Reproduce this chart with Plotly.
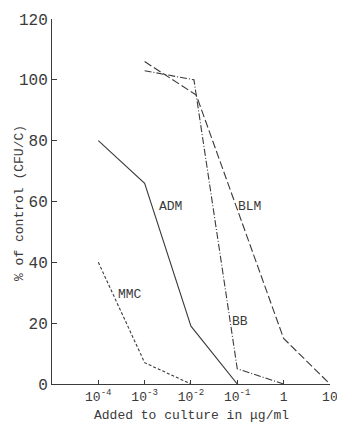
import plotly.graph_objects as go

# Data
adm_x = [1e-4, 1e-3, 1e-2, 1e-1]
adm_y = [80, 66, 19, 0]
mmc_x = [1e-4, 1e-3, 1e-2]
mmc_y = [40, 7, 0]
bb_x = [1e-3, 1.16e-2, 1e-1, 1]
bb_y = [103, 100, 5, 0]
blm_x = [1e-3, 1.3e-2, 1, 10]
blm_y = [106, 95, 15, 0]

x_tickvals = [1e-4, 1e-3, 1e-2, 1e-1, 1, 10]
x_ticktext = ["10<sup>-4</sup>", "10<sup>-3</sup>", "10<sup>-2</sup>", "10<sup>-1</sup>", "1", "10"]
y_tickvals = [0, 20, 40, 60, 80, 100, 120]

# label positions: (text, log10 x, y)
labels = [("ADM", -2.45, 58.5), ("BLM", -0.74, 58.5), ("MMC", -3.32, 29.3), ("BB", -0.94, 20.7)]

FONT = "Liberation Mono"
INK = "#3a3a3a"

fig = go.Figure()
for xs, ys, dash in [(adm_x, adm_y, "solid"), (mmc_x, mmc_y, "3px,2px"),
                     (bb_x, bb_y, "7px,2px,1px,2px"), (blm_x, blm_y, "8px,3px")]:
    fig.add_trace(go.Scatter(x=xs, y=ys, mode="lines",
                             line=dict(color=INK, width=1.1, dash=dash),
                             showlegend=False, hoverinfo="skip"))

for text, x, y in labels:
    fig.add_annotation(x=x, y=y, text=text, showarrow=False,
                       font=dict(family=FONT, size=13, color=INK), xanchor="center", yanchor="middle")

fig.add_annotation(xref="paper", yref="paper", x=0.502, y=-0.085, text="Added to culture in μg/ml",
                   showarrow=False, xanchor="center", yanchor="middle",
                   font=dict(family=FONT, size=13, color=INK))
fig.add_annotation(xref="paper", yref="paper", x=-0.115, y=0.496, text="% of control (CFU/C)",
                   showarrow=False, xanchor="center", yanchor="middle", textangle=-90,
                   font=dict(family=FONT, size=13, color=INK))

fig.update_layout(
    width=337, height=425,
    margin=dict(l=52, r=7, t=19, b=41),
    plot_bgcolor="white", paper_bgcolor="white",
    font=dict(family=FONT, size=13, color=INK),
)
fig.update_xaxes(type="log", range=[-5, 1.002], tickvals=x_tickvals, ticktext=x_ticktext,
                 automargin=False, ticklabeloverflow="allow",
                 showgrid=False, zeroline=False, showline=True, linecolor=INK, linewidth=1,
                 ticks="inside", ticklen=4, tickcolor=INK,
                 tickfont=dict(family=FONT, size=13, color=INK))
fig.update_yaxes(range=[0, 120], tickvals=y_tickvals, automargin=False,
                 showgrid=False, zeroline=False, showline=True, linecolor=INK, linewidth=1,
                 ticks="inside", ticklen=5, tickcolor=INK,
                 tickfont=dict(family=FONT, size=16, color=INK))

fig.write_html("out.html", config={"displayModeBar": False},
               post_script="document.body.style.margin='0';document.body.style.overflow='hidden';")
